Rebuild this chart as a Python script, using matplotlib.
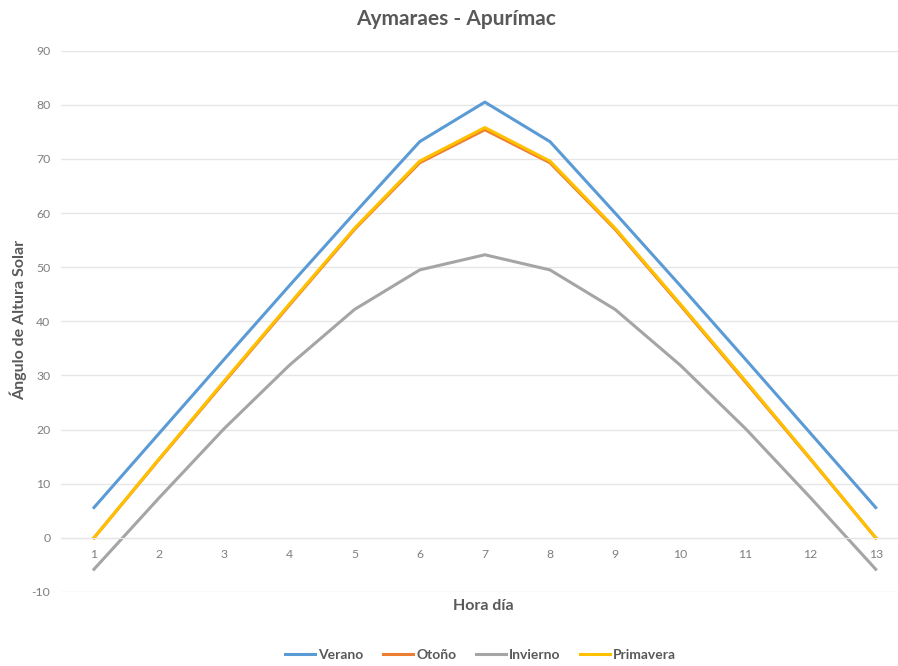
import numpy as np
import matplotlib
matplotlib.use("Agg")
import matplotlib.pyplot as plt

plt.rcParams['font.family'] = ['Lato', 'DejaVu Sans']
plt.rcParams['axes.unicode_minus'] = False

# datos
horas = [1, 2, 3, 4, 5, 6, 7, 8, 9, 10, 11, 12, 13]
verano = [5.6, 19.3, 33.0, 46.6, 60.0, 73.2, 80.5, 73.2, 60.0, 46.6, 33.0, 19.3, 5.6]
otono = [0.0, 14.5, 28.8, 43.0, 57.0, 69.3, 75.4, 69.3, 57.0, 43.0, 28.8, 14.5, 0.0]
invierno = [-5.8, 7.4, 20.2, 31.9, 42.2, 49.5, 52.3, 49.5, 42.2, 31.9, 20.2, 7.4, -5.8]
primavera = [0.0, 14.6, 29.0, 43.2, 57.2, 69.6, 75.8, 69.6, 57.2, 43.2, 29.0, 14.6, 0.0]

series = [("Verano", verano, "#5B9BD5"),
          ("Otoño", otono, "#ED7D31"),
          ("Invierno", invierno, "#A5A5A5"),
          ("Primavera", primavera, "#FFC000")]

texto = "#595959"
grid = "#E6E6E6"

fig = plt.figure(figsize=(8.98, 6.66), dpi=100)
ax = fig.add_axes([61.4 / 898, 1 - 592 / 666, (908.3 - 61.4) / 898, (592 - 50.7) / 666])

for nombre, valores, color in series:
    ax.plot(horas, valores, color=color, lw=2.2, label=nombre, solid_joinstyle='round')

ax.set_xlim(0.5, 13.5)
ax.set_ylim(-10, 90)
ax.set_yticks(np.arange(-10, 91, 10))
ax.set_xticks(horas)
ax.yaxis.grid(True, color=grid, lw=1)
ax.set_axisbelow(True)

for s in ['top', 'right', 'left']:
    ax.spines[s].set_visible(False)
ax.spines['bottom'].set_position(('data', 0))
ax.spines['bottom'].set_color(grid)
ax.tick_params(axis='both', length=0, labelsize=8.8, labelcolor="#7F7F7F")
ax.tick_params(axis='x', pad=8)
ax.tick_params(axis='y', pad=8)

fig.text(0.508, 0.972, "Aymaraes - Apurímac", ha='center', va='center',
         fontsize=15, fontweight='bold', color=texto)
fig.text(0.538, 0.090, "Hora día", ha='center', va='center',
         fontsize=11.5, fontweight='bold', color=texto)
fig.text(0.020, 0.52, "Ángulo de Altura Solar", ha='center', va='center',
         rotation=90, fontsize=11.5, fontweight='bold', color=texto)

fig.legend(loc='center', bbox_to_anchor=(0.535, 0.016), ncol=4, frameon=False,
           handlelength=2.2, handletextpad=0.2, columnspacing=1.4,
           labelcolor=texto, prop={'weight': 'bold', 'size': 10})

fig.savefig("out.png", dpi=100)
